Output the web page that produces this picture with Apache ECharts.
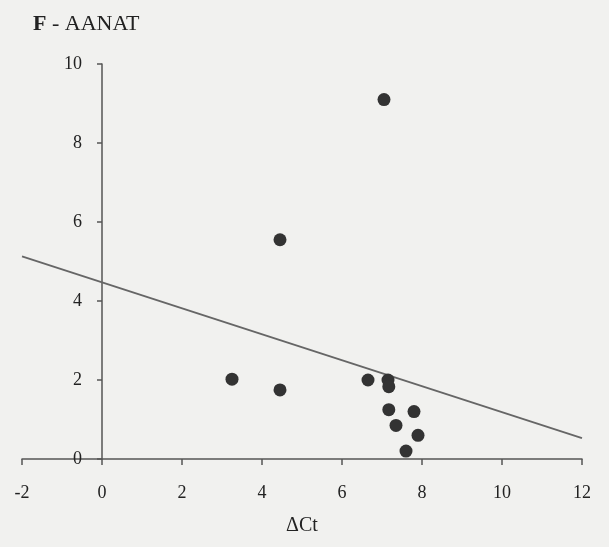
<!DOCTYPE html>
<html>
<head>
<meta charset="utf-8">
<script src="https://cdn.jsdelivr.net/npm/echarts@6/dist/echarts.min.js"></script>
<style>
  html, body { margin: 0; padding: 0; background: #f1f1ef; }
  #main { width: 609px; height: 547px; }
</style>
</head>
<body>
<div id="main"></div>
<script>
// 数据点 (ΔCt, AANAT)
var deltaCt = [7.05, 4.45, 3.25, 4.45, 6.65, 7.15, 7.17, 7.17, 7.8, 7.35, 7.9, 7.6];
var aanat = [9.1, 5.55, 2.02, 1.75, 2.0, 2.0, 1.83, 1.25, 1.2, 0.85, 0.6, 0.2];
// 回归线的两端
var fitX = [-2, 12];
var fitY = [5.13, 0.53];

var xTicks = [-2, 0, 2, 4, 6, 8, 10, 12];
var yTicks = [0, 2, 4, 6, 8, 10];

var points = deltaCt.map(function (x, i) { return [x, aanat[i]]; });
var fitLine = fitX.map(function (x, i) { return [x, fitY[i]]; });

var chart = echarts.init(document.getElementById('main'));
var font = 'Liberation Serif';
var gridLeft = 22, gridRight = 27;
// y轴画在 x=0 处
var xMin = xTicks[0], xMax = xTicks[xTicks.length - 1];
var yAxisOffset = -(0 - xMin) / (xMax - xMin) * (609 - gridLeft - gridRight);

var option = {
    backgroundColor: '#f1f1ef',
    animation: false,
    title: {
        text: '{b|F} - AANAT',
        left: 28,
        top: 8,
        textStyle: {
            fontFamily: font,
            fontSize: 22,
            fontWeight: 'normal',
            color: '#222',
            rich: {
                b: { fontFamily: font, fontSize: 22, fontWeight: 'bold', color: '#222' }
            }
        }
    },
    grid: { left: gridLeft, right: gridRight, top: 64, bottom: 88, outerBoundsMode: 'none', containLabel: false },
    xAxis: {
        type: 'value',
        min: xMin,
        max: xMax,
        interval: 2,
        name: 'ΔCt',
        nameLocation: 'middle',
        nameGap: 57,
        nameTextStyle: { fontFamily: font, fontSize: 20, color: '#222' },
        axisLine: { onZero: true, lineStyle: { color: '#555', width: 1.5 } },
        axisTick: { show: true, length: 6, lineStyle: { color: '#555', width: 1.5 } },
        axisLabel: { fontFamily: font, fontSize: 18, color: '#222', margin: 25 },
        splitLine: { show: false }
    },
    yAxis: {
        type: 'value',
        position: 'left',
        offset: yAxisOffset,
        min: yTicks[0],
        max: yTicks[yTicks.length - 1],
        interval: 2,
        axisLine: { show: true, onZero: false, lineStyle: { color: '#555', width: 1.5 } },
        axisTick: { show: true, length: 5, lineStyle: { color: '#555', width: 1.5 } },
        axisLabel: { fontFamily: font, fontSize: 18, color: '#222', margin: 20 },
        splitLine: { show: false }
    },
    series: [
        {
            type: 'line',
            data: fitLine,
            symbol: 'none',
            lineStyle: { color: '#666', width: 1.8 },
            z: 1
        },
        {
            type: 'scatter',
            data: points,
            symbolSize: 13,
            itemStyle: { color: '#333', opacity: 1 },
            z: 3
        }
    ]
};

chart.setOption(option);
</script>
</body>
</html>
